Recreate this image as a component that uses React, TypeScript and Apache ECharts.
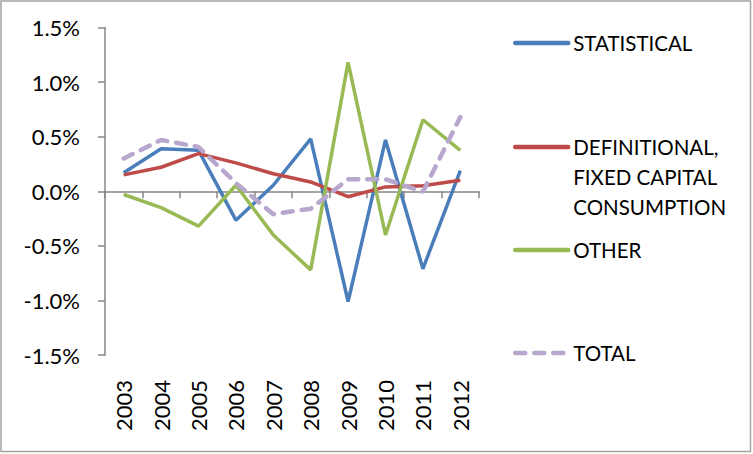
import { useEffect, useRef } from "react";
import * as echarts from "echarts";

const years = ["2003", "2004", "2005", "2006", "2007", "2008", "2009", "2010", "2011", "2012"];

// values in percent
const statistical = [0.17, 0.39, 0.375, -0.265, 0.055, 0.48, -1.01, 0.47, -0.71, 0.19];
const definitional = [0.15, 0.22, 0.345, 0.26, 0.16, 0.085, -0.05, 0.04, 0.05, 0.1];
const other = [-0.03, -0.15, -0.32, 0.055, -0.4, -0.72, 1.18, -0.4, 0.655, 0.375];
const total = [0.3, 0.47, 0.405, 0.075, -0.21, -0.16, 0.11, 0.11, -0.005, 0.68];

const FONT = "Lato, 'Open Sans', sans-serif";
const AXIS_GRAY = "#868686";
const DEF_NAME = "DEFINITIONAL, FIXED CAPITAL CONSUMPTION";

function legendFor(name: string, top: number, formatter?: (n: string) => string) {
  return {
    data: [name],
    orient: "vertical",
    left: 513,
    top,
    padding: 0,
    itemWidth: 53,
    itemHeight: 14,
    itemGap: 0,
    selectedMode: false,
    itemStyle: { opacity: 0 },
    lineStyle: { width: 4.5, cap: "round" },
    formatter,
    textStyle: {
      fontFamily: FONT,
      fontSize: 20.5,
      color: "#000",
      lineHeight: 30,
    },
  };
}

export default function App() {
  const chartRef = useRef<HTMLDivElement>(null);

  useEffect(() => {
    if (!chartRef.current) return;
    const chart = echarts.init(chartRef.current, undefined, { renderer: "svg" });

    const lineSeries = (name: string, data: number[], color: string, dashed = false) => ({
      name,
      type: "line",
      data,
      symbol: "none",
      xAxisIndex: 0,
      lineStyle: {
        color,
        width: dashed ? 4.5 : 3.5,
        type: dashed ? [10, 9] : "solid",
        cap: dashed ? "round" : "butt",
      },
      itemStyle: { color },
    });

    chart.setOption({
      animation: false,
      backgroundColor: "#fff",
      grid: { left: 105, right: 274, top: 27.5, bottom: 99 },
      legend: [
        legendFor("STATISTICAL", 28),
        // two blank lines on top keep the icon level with the first line
        legendFor(DEF_NAME, 72, () => " \n \nDEFINITIONAL,\nFIXED CAPITAL\nCONSUMPTION"),
        legendFor("OTHER", 235),
        legendFor("TOTAL", 338),
      ],
      xAxis: [
        {
          type: "category",
          data: years,
          boundaryGap: true,
          axisLine: { onZero: true, lineStyle: { color: AXIS_GRAY, width: 1.5 } },
          axisTick: { show: true, length: 7, lineStyle: { color: AXIS_GRAY, width: 1.5 } },
          axisLabel: { show: false },
          splitLine: { show: false },
        },
        {
          type: "category",
          data: years,
          position: "bottom",
          boundaryGap: true,
          axisLine: { show: false, onZero: false },
          axisTick: { show: false },
          axisLabel: {
            rotate: 90,
            margin: 25,
            fontFamily: FONT,
            fontSize: 22,
            color: "#000",
          },
        },
      ],
      yAxis: {
        type: "value",
        min: -1.5,
        max: 1.5,
        interval: 0.5,
        axisLine: { show: true, lineStyle: { color: AXIS_GRAY, width: 1.5 } },
        axisTick: { show: true, length: 7, lineStyle: { color: AXIS_GRAY, width: 1.5 } },
        splitLine: { show: false },
        axisLabel: {
          margin: 25,
          fontFamily: FONT,
          fontSize: 22,
          color: "#000",
          formatter: (v: number) => v.toFixed(1) + "%",
        },
      },
      series: [
        lineSeries("STATISTICAL", statistical, "#4a7ebb"),
        lineSeries(DEF_NAME, definitional, "#be4b48"),
        lineSeries("OTHER", other, "#98b954"),
        lineSeries("TOTAL", total, "#b8a7cd", true),
      ],
      graphic: [
        {
          type: "rect",
          shape: { x: 1, y: 1, width: 749.5, height: 450.5 },
          style: { fill: "none", stroke: "#a3a3a3", lineWidth: 1.5 },
          silent: true,
        },
      ],
    });

    return () => chart.dispose();
  }, []);

  return (
    <div
      ref={chartRef}
      style={{ position: "absolute", left: 0, top: 0, width: 753, height: 454 }}
    />
  );
}
